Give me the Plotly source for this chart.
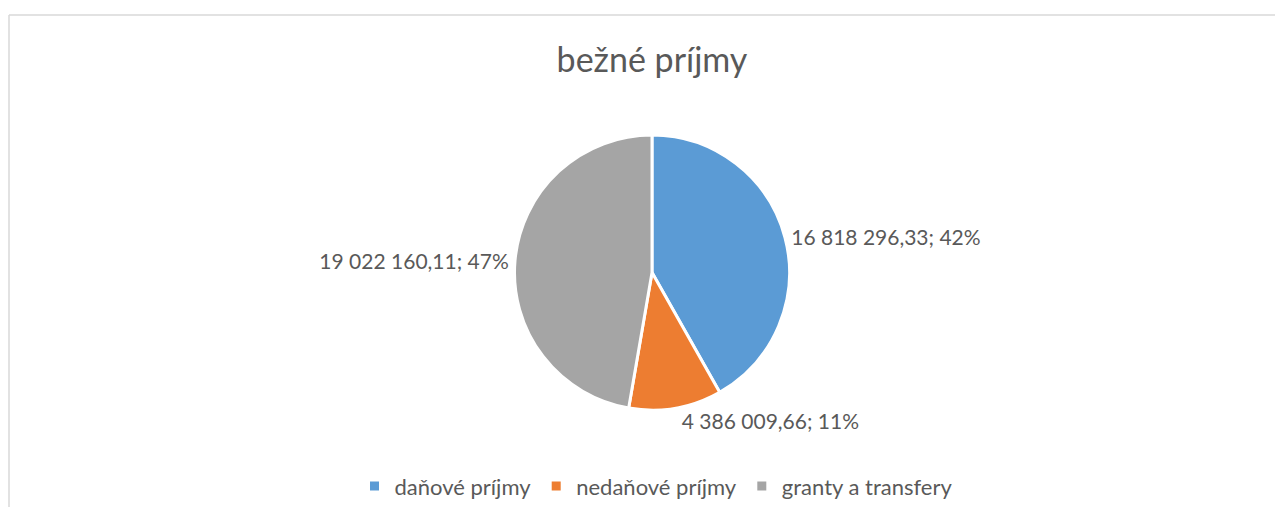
import plotly.graph_objects as go

categories = ["daňové príjmy", "nedaňové príjmy", "granty a transfery"]
values = [16818296.33, 4386009.66, 19022160.11]
colors = ["#5B9BD5", "#ED7D31", "#A5A5A5"]
title_text = "bežné príjmy"

# page has an 8px body margin; figure is sized to fit inside the window
W, H = 1267, 499
ML, MR, MT, MB = 21, 0, 126.5, 96.5
TXT = "#595959"
FONT = "Lato"

def px_x(x):
    return (x - ML) / (W - ML - MR)

def px_y(y):
    return (H - MB - y) / (H - MT - MB)

fig = go.Figure(go.Pie(
    labels=categories,
    values=values,
    marker=dict(colors=colors, line=dict(color="white", width=3)),
    sort=False,
    direction="clockwise",
    rotation=0,
    textposition="outside",
    texttemplate="%{value:,.2f}; %{percent:.0%}",
    textfont=dict(family=FONT, size=21, color=TXT),
    showlegend=True,
    hoverinfo="skip",
))

fig.update_layout(
    width=W, height=H,
    autosize=False,
    margin=dict(l=ML, r=MR, t=MT, b=MB, autoexpand=False),
    paper_bgcolor="white",
    plot_bgcolor="white",
    separators=", ",
    title=dict(text=title_text, x=644 / W, xref="container", xanchor="center",
               y=1 - 52 / H, yref="container", yanchor="middle",
               font=dict(family=FONT, size=34, color=TXT)),
    legend=dict(orientation="h", xref="paper", yref="paper",
                x=px_x(648), xanchor="center", y=px_y(479), yanchor="middle",
                font=dict(family=FONT, size=22, color=TXT),
                itemclick=False),
    shapes=[
        dict(type="line", xref="paper", yref="paper",
             x0=px_x(1), x1=px_x(1300), y0=px_y(6), y1=px_y(6),
             line=dict(color="#D9D9D9", width=1.5)),
        dict(type="line", xref="paper", yref="paper",
             x0=px_x(1), x1=px_x(1), y0=px_y(6), y1=px_y(530),
             line=dict(color="#D9D9D9", width=1.5)),
    ],
)

fig.write_html("out.html")
